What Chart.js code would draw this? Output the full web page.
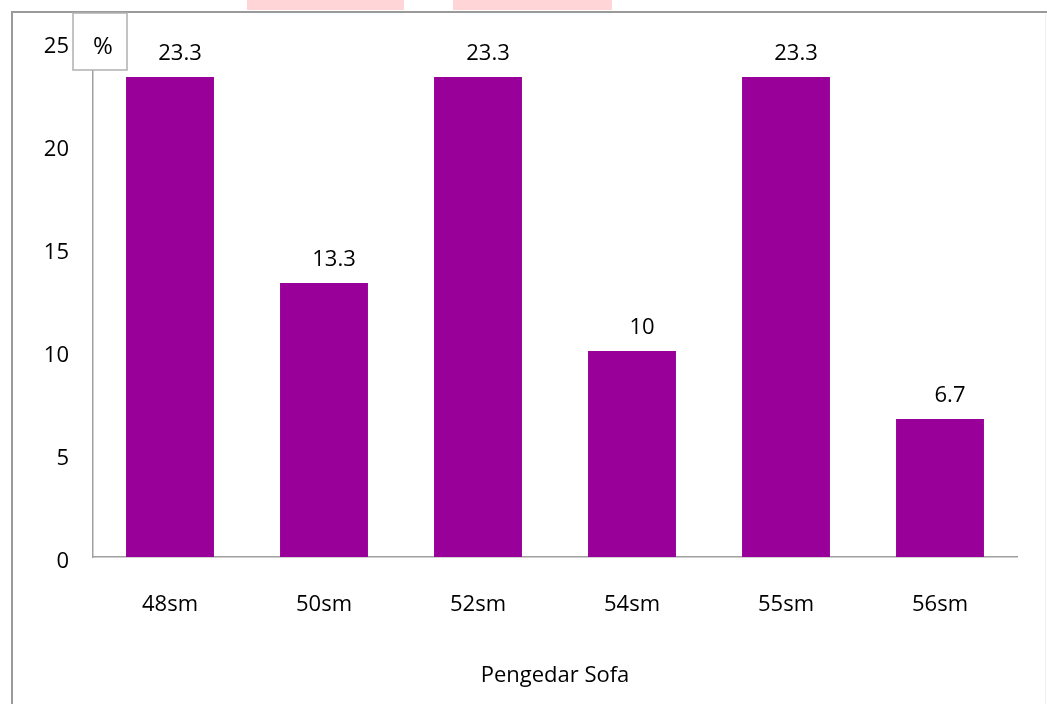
<!DOCTYPE html>
<html>
<head>
<meta charset="utf-8">
<script src="https://cdn.jsdelivr.net/npm/chart.js"></script>
<style>
  html, body { margin: 0; padding: 0; background: #fff; }
  #chart { display: block; }
</style>
</head>
<body>
<canvas id="chart" width="1047" height="704"></canvas>
<script>
const categories = ["48sm", "50sm", "52sm", "54sm", "55sm", "56sm"]
const percentValues = [23.3, 13.3, 23.3, 10, 23.3, 6.7]
const yTicks = [0, 5, 10, 15, 20, 25]
const xTitle = "Pengedar Sofa"
const unitLabel = "%"

const FONT = "'Open Sans', sans-serif"
const AXIS_GRAY = "#a0a0a0"

// frame, pink strips and background behind the chart
const framePlugin = {
  id: "frame",
  beforeDraw(chart) {
    const ctx = chart.ctx
    ctx.save()
    ctx.fillStyle = "#fff"
    ctx.fillRect(0, 0, chart.width, chart.height)
    ctx.fillStyle = "#ffd5d8"
    ctx.fillRect(247, 0, 157, 10)
    ctx.fillRect(453, 0, 159, 10)
    ctx.strokeStyle = "#9a9a9a"
    ctx.lineWidth = 2
    ctx.beginPath()
    ctx.moveTo(12, chart.height)
    ctx.lineTo(12, 12)
    ctx.lineTo(chart.width, 12)
    ctx.stroke()
    ctx.strokeStyle = "#eeeeee"
    ctx.lineWidth = 1
    ctx.beginPath()
    ctx.moveTo(1045.5, 14)
    ctx.lineTo(1045.5, chart.height)
    ctx.stroke()
    ctx.restore()
  },
  afterDraw(chart) {
    const ctx = chart.ctx
    const meta = chart.getDatasetMeta(0)
    ctx.save()
    // value labels above bars
    ctx.fillStyle = "#000"
    ctx.font = "22px " + FONT
    ctx.textAlign = "center"
    ctx.textBaseline = "middle"
    meta.data.forEach((bar, i) => {
      ctx.fillText(String(percentValues[i]), bar.x + 10, bar.y - 23)
    })
    // "%" unit box over the top of the y axis
    ctx.fillStyle = "#fff"
    ctx.fillRect(73, 13, 54, 57)
    ctx.strokeStyle = "#b0b0b0"
    ctx.lineWidth = 1.5
    ctx.strokeRect(73, 13, 54, 57)
    ctx.fillStyle = "#000"
    ctx.font = "24px " + FONT
    ctx.fillText(unitLabel, 103, 47)
    ctx.restore()
  }
}

new Chart(document.getElementById("chart"), {
  type: "bar",
  data: {
    labels: categories,
    datasets: [{
      data: percentValues,
      backgroundColor: "#990099",
      borderWidth: 0,
      barPercentage: 0.571,
      categoryPercentage: 1.0,
    }],
  },
  options: {
    responsive: false,
    animation: false,
    layout: { padding: { top: 42, right: 30, bottom: 0, left: 0 } },
    plugins: {
      legend: { display: false },
      tooltip: { enabled: false },
    },
    scales: {
      x: {
        grid: { display: false, drawTicks: false },
        border: { color: AXIS_GRAY, width: 1.5 },
        ticks: { color: "#000", font: { family: FONT, size: 22 }, padding: 35, maxRotation: 0 },
        title: {
          display: true,
          text: xTitle,
          color: "#000",
          font: { family: FONT, size: 22 },
          padding: { top: 0, bottom: 15 },
        },
        afterFit(scale) { scale.height = 147 },
      },
      y: {
        min: 0,
        max: 25,
        grid: { display: false, drawTicks: false },
        border: { color: AXIS_GRAY, width: 1.5 },
        afterBuildTicks(scale) { scale.ticks = yTicks.map(v => ({ value: v })) },
        ticks: {
          color: "#000",
          font: { family: FONT, size: 22 },
          padding: 24,
          labelOffset: 5,
        },
        afterFit(scale) { scale.width = 93 },
      },
    },
  },
  plugins: [framePlugin],
})
</script>
</body>
</html>
